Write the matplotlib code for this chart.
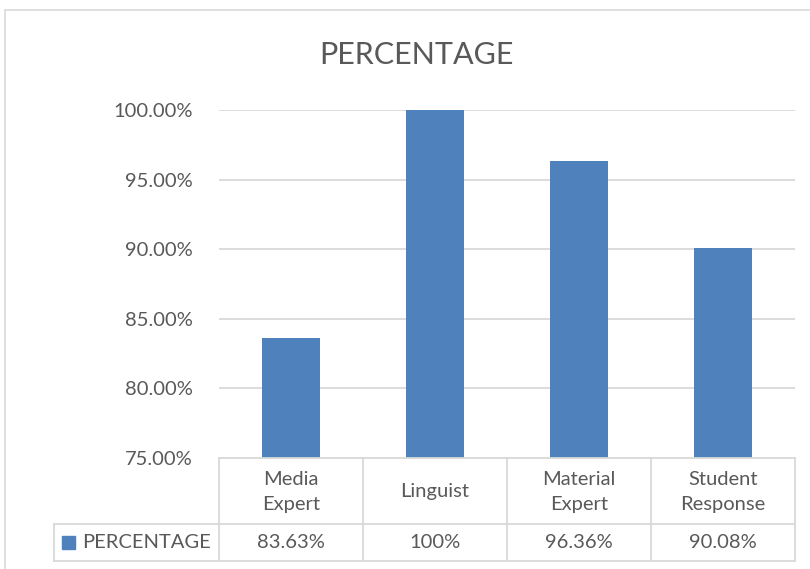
import matplotlib
matplotlib.use("Agg")
import matplotlib.pyplot as plt
from matplotlib.lines import Line2D
from matplotlib.patches import Rectangle

# Data
categories = ["Media\nExpert", "Linguist", "Material\nExpert", "Student\nResponse"]
values = [83.63, 100.0, 96.36, 90.08]
value_labels = ["83.63%", "100%", "96.36%", "90.08%"]
series_name = "PERCENTAGE"
yticks = [75, 80, 85, 90, 95, 100]

plt.rcParams["font.family"] = ["Lato", "DejaVu Sans"]
W, H = 810, 569
txt = "#595959"
grid = "#D9D9D9"
blue = "#4F81BD"
fs = 14.5

fig = plt.figure(figsize=(W / 100, H / 100), dpi=100)


def fx(px):
    return px / W


def fy(py):
    return 1 - py / H


# chart border
fig.add_artist(Rectangle((fx(5), fy(580)), fx(830) - fx(5), fy(10) - fy(580),
                         transform=fig.transFigure, fill=False, edgecolor=grid, lw=1.2))

x0, x1, y_top, y_bot = 219, 795, 110, 458
ax = fig.add_axes([fx(x0), fy(y_bot), fx(x1) - fx(x0), fy(y_top) - fy(y_bot)])
ax.set_xlim(-0.5, len(values) - 0.5)
ax.set_ylim(75, 100)
ax.bar(range(len(values)), [v - 75 for v in values], bottom=75, width=0.4, color=blue, zorder=3)
ax.set_yticks(yticks)
ax.set_yticklabels(["{:.2f}%".format(t) for t in yticks], fontsize=fs, color=txt)
ax.yaxis.grid(True, color=grid, lw=1.3, zorder=0)
ax.set_xticks([])
ax.tick_params(axis="y", length=0, pad=19)
for s in ax.spines.values():
    s.set_visible(False)

fig.text(fx(416), fy(55), "PERCENTAGE", ha="center", va="center", fontsize=22, color=txt)

# data table
row1, row2 = 524, 561
left = 54
lines = [
    ((x0, x1), (y_bot, y_bot)),
    ((left, x1), (row1, row1)),
    ((left, x1), (row2, row2)),
    ((left, left), (row1, row2)),
]
cw = (x1 - x0) / len(values)
for i in range(len(values) + 1):
    xx = x0 + i * cw
    lines.append(((xx, xx), (y_bot, row2)))
for (xs, ys) in lines:
    fig.add_artist(Line2D([fx(v) for v in xs], [fy(v) for v in ys],
                          transform=fig.transFigure, color=grid, lw=1.3))

for i, (c, v) in enumerate(zip(categories, value_labels)):
    cx = x0 + (i + 0.5) * cw
    fig.text(fx(cx), fy((y_bot + row1) / 2 + 1), c, ha="center", va="center",
             fontsize=fs, color=txt, linespacing=1.55)
    fig.text(fx(cx), fy((row1 + row2) / 2), v, ha="center", va="center",
             fontsize=fs, color=txt)

fig.add_artist(Rectangle((fx(62), fy(549)), fx(75) - fx(62), fy(536) - fy(549),
                         transform=fig.transFigure, color=blue))
fig.text(fx(82), fy((row1 + row2) / 2), series_name, ha="left", va="center",
         fontsize=fs, color=txt)

fig.savefig("out.png", dpi=100)
